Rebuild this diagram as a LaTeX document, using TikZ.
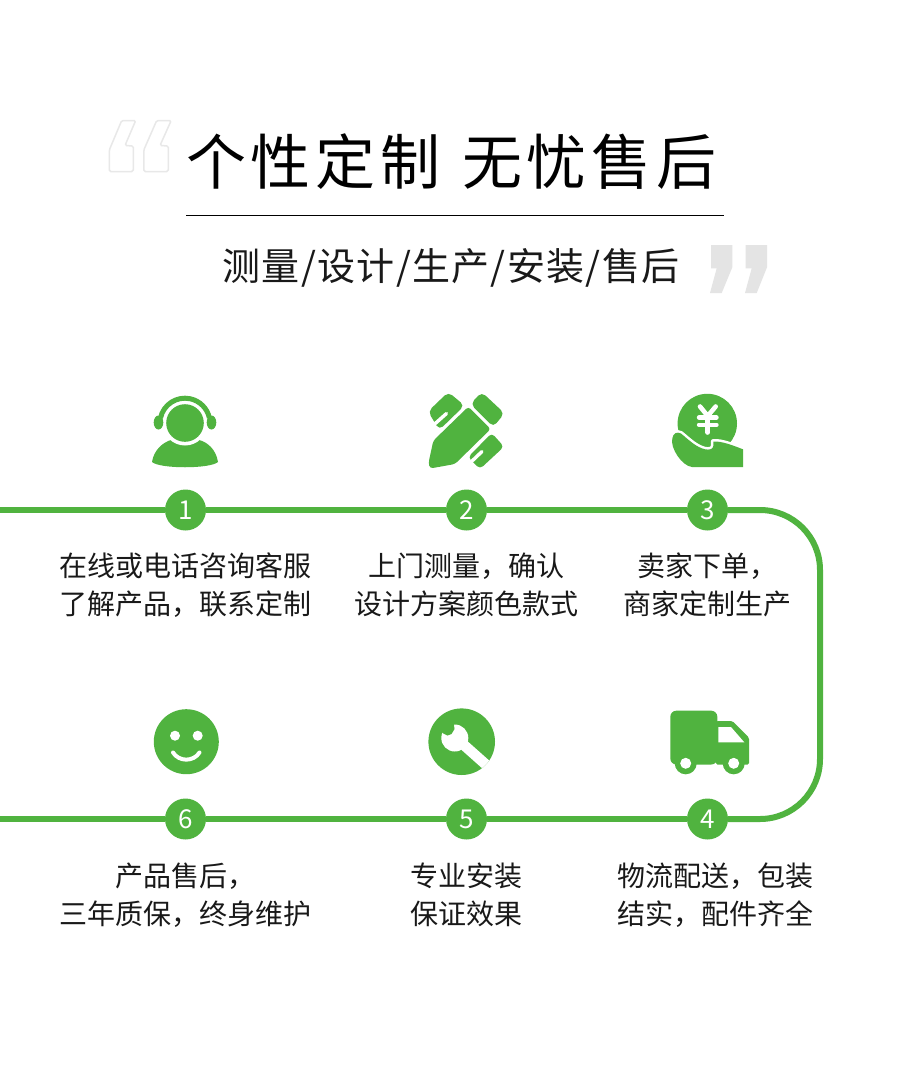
\documentclass[tikz,border=0pt]{standalone}
\usepackage{fontspec}
\setmainfont{Noto Sans CJK SC}
\newfontfamily\titlefont[LetterSpace=8]{Noto Sans CJK SC}
\newfontfamily\subfont[LetterSpace=3.5]{Noto Sans CJK SC}
\definecolor{brand}{HTML}{50B33F}
\definecolor{quoteA}{HTML}{E8E8E8}
\definecolor{quoteB}{HTML}{E4E4E4}
\tikzset{
  flowline/.style={draw=brand,line width=6pt},
  numdot/.style={circle,fill=brand,text=white,minimum size=41pt,inner sep=0pt,font=\fontsize{26}{26}\selectfont},
  bodytext/.style={align=center,inner sep=0pt,text=black!90,font=\fontsize{28}{38}\selectfont},
  knock/.style={draw=white,line cap=round,line join=round},
}
\begin{document}
\begin{tikzpicture}[x=1pt,y=-1pt]
\useasboundingbox (0,0) rectangle (900,1087);
\fill[white] (0,0) rectangle (900,1087);

% quotes
\draw[quoteA,line width=1.5pt,rounded corners=1.5pt] (121.7,120.5)--(135.7,120.5)--(125,145.5)--(133.3,146)--(133.3,171.5)--(109.3,171.5)--(109.3,150)--cycle;
\draw[quoteA,line width=1.5pt,rounded corners=1.5pt] (156.7,120.5)--(171.2,120.5)--(160,145.5)--(168.3,146)--(168.3,171.5)--(143.8,171.5)--(143.8,150)--cycle;
\fill[quoteB] (711,245)--(732.3,245)--(732.3,267.3)--(721.7,293)--(710,293)--(716.7,268.3)--(711,268.3)--cycle;
\fill[quoteB] (745.7,245)--(767,245)--(767,267.3)--(756.7,293)--(745,293)--(751.7,268.3)--(745.7,268.3)--cycle;

% title
\node[inner sep=0pt,text=black] (title) at (451.3,161.5) {\fontsize{60}{62}\titlefont 个性定制\kern3.5pt{} 无忧售后};
\coordinate (ruleL) at (186,215.5);
\coordinate (ruleR) at (724,215.5);
\draw[black,line width=1pt] (ruleL)--(ruleR);
\node[inner sep=0pt,text=black!90] (subtitle) at (451,267.5) {\fontsize{38}{40}\subfont 测量/设计/生产/安装/售后};

% flow
\coordinate (startT) at (0,510);
\coordinate (startB) at (0,819);
\node[numdot] (n1) at (185.5,510) {1};
\node[numdot] (n2) at (466.5,510) {2};
\node[numdot] (n3) at (707.5,510) {3};
\node[numdot] (n4) at (707.5,819) {4};
\node[numdot] (n5) at (466.5,819) {5};
\node[numdot] (n6) at (185.5,819) {6};
\draw[flowline] (startT)--(n1);
\draw[flowline] (n1)--(n2);
\draw[flowline] (n2)--(n3);
\draw[flowline] (n3.east) -- (760,510) arc[start angle=90,end angle=0,radius=60pt] -- (820,759) arc[start angle=0,end angle=-90,radius=60pt] -- (n4.east);
\draw[flowline] (n4)--(n5);
\draw[flowline] (n5)--(n6);
\draw[flowline] (n6)--(startB);

% body text
\node[bodytext] (t1) at (185.5,585) {在线或电话咨询客服\\了解产品，联系定制};
\node[bodytext] (t2) at (466.5,585) {上门测量，确认\\设计方案颜色款式};
\node[bodytext] (t3) at (707.5,585) {卖家下单，\\商家定制生产};
\node[bodytext] (t4) at (715.5,895) {物流配送，包装\\结实，配件齐全};
\node[bodytext] (t5) at (466.5,895) {专业安装\\保证效果};
\node[bodytext] (t6) at (185.5,895) {产品售后，\\三年质保，终身维护};

% icon 1: headset
\fill[brand] (152,462) .. controls (154,449) and (164,442) .. (171,440) -- (199,440) .. controls (207,442) and (216,449) .. (218,462) .. controls (210,469) and (160,469) .. (152,462) -- cycle;
\fill[white] (185,423) circle (22.5pt);
\fill[brand] (185,423) circle (18.8pt);
\draw[brand,line width=5pt] (160.5,418) arc[start angle=168,end angle=12,radius=25pt];
\fill[brand] (158.5,422.5) ellipse (4.8pt and 7pt);
\fill[brand] (211.5,422.5) ellipse (4.8pt and 7pt);

% icon 2: pencil and ruler
\fill[brand,rounded corners=5pt] (448.3,392)--(464.5,405.5)--(439.3,430)--(428,411.5)--cycle;
\draw[knock,line width=3.4pt] (446.5,413.5)--(433,425.5);
\fill[brand,rounded corners=5pt] (481.7,392)--(504.5,413.3)--(493.3,427)--(470.5,404)--cycle;
\fill[brand,rounded corners=4pt] (491.7,433)--(504,446.7)--(480,469)--(468,457.3)--cycle;
\draw[knock,line width=3.4pt] (482,451.5)--(471,462);
\fill[brand,rounded corners=3pt] (468.3,406.7)--(490.7,429)--(455,464)--(430,468.5)--(428.5,463)--(433.3,440.7)--cycle;

% icon 3: yen in hand
\fill[brand] (707.3,423.5) circle (29.7pt);
\draw[white,line width=4.6pt,line cap=round,line join=miter] (700,406.5)--(707.7,416)--(715.7,406.5);
\draw[white,line width=4.6pt,line cap=round] (707.7,416)--(707.7,432.5);
\draw[white,line width=4.4pt,line cap=round] (699,417.5)--(716.5,417.5);
\draw[white,line width=4.4pt,line cap=round] (699,424.8)--(716.5,424.8);
\path[fill=brand,preaction={draw=white,line width=5pt,line join=round}] (672.3,438.5) .. controls (673,433) and (677,431.5) .. (681,433.5) .. controls (690,441) and (696,447) .. (705,449.3) .. controls (709,450) and (713,449.5) .. (713.3,446) -- (713.3,441.5) .. controls (722,441) and (733,445.5) .. (743,449.3) -- (743,467) -- (692,467) .. controls (682,466) and (670,448) .. (672.3,438.5) -- cycle;

% icon 6: smile
\fill[brand] (186.3,741.7) circle (32.5pt);
\fill[white] (175,735.7) circle (5pt);
\fill[white] (197.7,735.7) circle (5pt);
\draw[white,line width=4pt,line cap=round] (173,752.5) .. controls (179,762) and (193.5,762) .. (199.5,752.5);

% icon 5: wrench
\fill[brand] (461.7,741.7) circle (33.3pt);
\begin{scope}
\clip (461.7,741.7) circle (33.3pt);
\draw[white,line width=10.5pt] (456,738) -- (492,770);
\end{scope}
\fill[white] (454.8,738) circle (13.5pt);
\fill[brand] (453.5,722) -- (454.5,729) -- (451.5,734) -- (447.5,735.5) -- (442.5,733) -- (438,720) -- cycle;

% icon 4: truck
\fill[brand,rounded corners=6pt] (670.3,710.7) -- (717.3,710.7) -- (717.3,764.5) -- (670.3,764.5) -- cycle;
\fill[brand,rounded corners=1.5pt] (716,721) -- (732.3,721) -- (749,737.7) -- (749,764.5) -- (716,764.5) -- cycle;
\fill[white] (718.3,727) -- (731,727) -- (744.3,742.3) -- (718.3,742.3) -- cycle;
\fill[brand] (685.7,763.3) circle (11pt);
\fill[white] (685.7,763.3) circle (5.5pt);
\fill[brand] (733.7,763.3) circle (11pt);
\fill[white] (733.7,763.3) circle (5.5pt);
\end{tikzpicture}
\end{document}
